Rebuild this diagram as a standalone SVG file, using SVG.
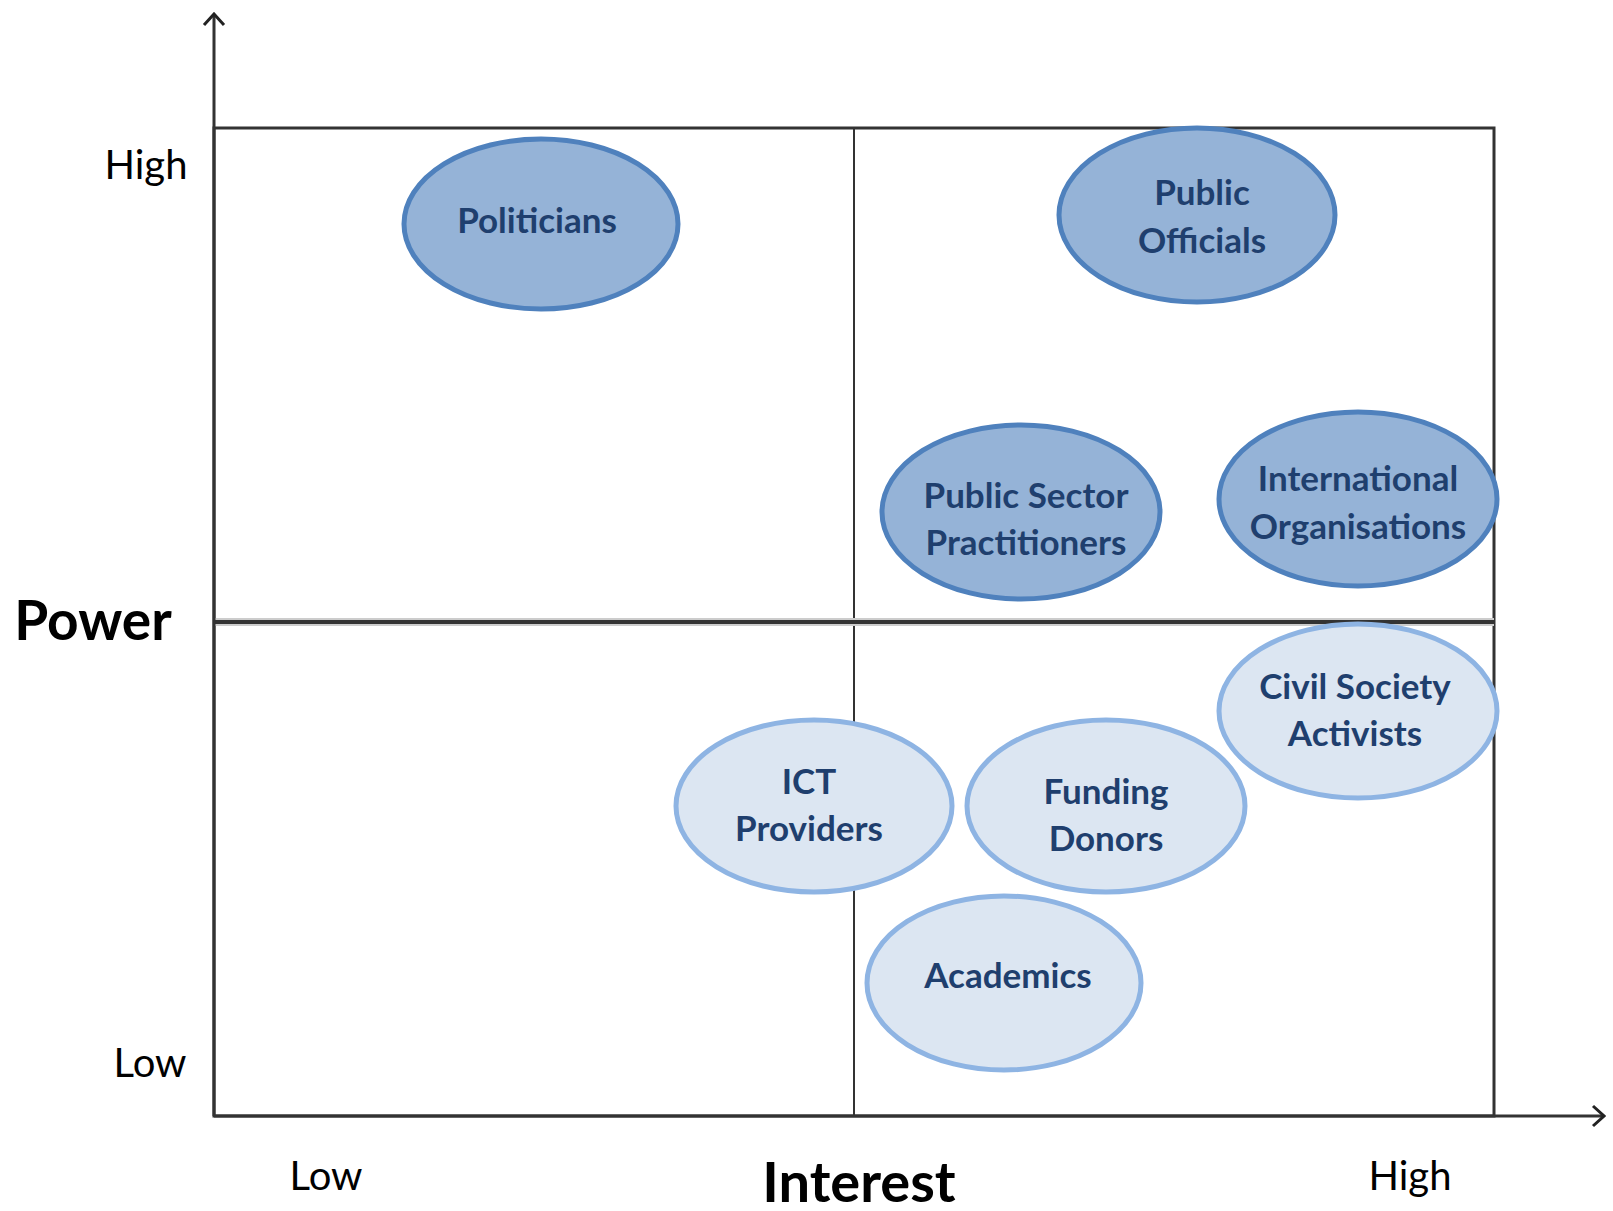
<svg xmlns="http://www.w3.org/2000/svg" width="1613" height="1211" viewBox="0 0 1613 1211">
<defs>
<style>
.dark ellipse{fill:#95b3d7;stroke:#4f81bd;stroke-width:5}
.light ellipse{fill:#dce6f2;stroke:#8eb4e3;stroke-width:5}
.nt{font-family:Lato,"Liberation Sans",sans-serif;font-size:35px;font-weight:bold;fill:#1f3f6e;text-anchor:middle;dominant-baseline:central}
.ax{font-family:Lato,"Liberation Sans",sans-serif;fill:#000;text-anchor:middle}
.ln{stroke:#333;fill:none}
</style>
<marker id="chev" viewBox="0 0 24 24" refX="22" refY="12" markerWidth="24" markerHeight="24" markerUnits="userSpaceOnUse" orient="auto">
<path d="M11,2 L22,12 L11,22" fill="none" stroke="#222" stroke-width="3"/>
</marker>
</defs>
<rect width="1613" height="1211" fill="#fff"/>
<g id="connectors">
<rect x="214" y="128" width="1280" height="988" class="ln" stroke-width="3"/>
<line x1="854" y1="128" x2="854" y2="1116" class="ln" stroke-width="2"/>
<line x1="214" y1="622" x2="1494" y2="622" stroke="#ccc" stroke-width="8"/>
<line x1="214" y1="622" x2="1494" y2="622" class="ln" stroke="#111" stroke-width="4"/>
<line x1="214" y1="1116" x2="214" y2="14" class="ln" stroke-width="3" marker-end="url(#chev)"/>
<line x1="214" y1="1116" x2="1604" y2="1116" class="ln" stroke-width="3" marker-end="url(#chev)"/>
</g>
<g id="labels">
<text class="ax" x="146" y="179" font-size="40">High</text>
<text class="ax" x="93" y="640" font-size="55" font-weight="bold">Power</text>
<text class="ax" x="150" y="1077" font-size="40">Low</text>
<text class="ax" x="326" y="1190" font-size="40">Low</text>
<text class="ax" x="859" y="1202" font-size="56" font-weight="bold">Interest</text>
<text class="ax" x="1410" y="1190" font-size="40">High</text>
</g>
<g id="politicians" class="dark"><ellipse cx="541" cy="224" rx="137" ry="85"/><text class="nt" x="537" y="219">Politicians</text></g>
<g id="public-officials" class="dark"><ellipse cx="1197" cy="215" rx="138" ry="87"/><text class="nt" x="1202" y="191">Public</text><text class="nt" x="1202" y="239">Officials</text></g>
<g id="public-sector-practitioners" class="dark"><ellipse cx="1021" cy="512" rx="139" ry="87"/><text class="nt" x="1026" y="494">Public Sector</text><text class="nt" x="1026" y="541">Practitioners</text></g>
<g id="international-organisations" class="dark"><ellipse cx="1358" cy="499" rx="139" ry="87"/><text class="nt" x="1358" y="477">International</text><text class="nt" x="1358" y="525">Organisations</text></g>
<g id="civil-society-activists" class="light"><ellipse cx="1358" cy="711" rx="139" ry="87"/><text class="nt" x="1355" y="685">Civil Society</text><text class="nt" x="1355" y="732">Activists</text></g>
<g id="ict-providers" class="light"><ellipse cx="814" cy="806" rx="138" ry="86"/><text class="nt" x="809" y="780">ICT</text><text class="nt" x="809" y="827">Providers</text></g>
<g id="funding-donors" class="light"><ellipse cx="1106" cy="806" rx="139" ry="86"/><text class="nt" x="1106" y="790">Funding</text><text class="nt" x="1106" y="837">Donors</text></g>
<g id="academics" class="light"><ellipse cx="1004" cy="983" rx="137" ry="87"/><text class="nt" x="1008" y="974">Academics</text></g>
</svg>
